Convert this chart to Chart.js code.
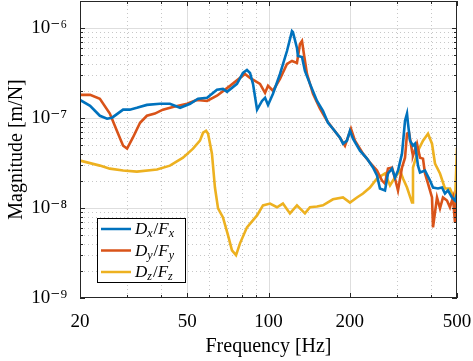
<!DOCTYPE html>
<html>
<head>
<meta charset="utf-8">
<script src="https://cdn.jsdelivr.net/npm/chart.js@4.4.0/dist/chart.umd.min.js"></script>
<style>
  html, body { margin: 0; padding: 0; background: #fff; }
</style>
</head>
<body>
<canvas id="grafico" width="473" height="361"></canvas>
<script>
// DATOS
const freqX = [20, 21.8, 23.7, 25.2, 26.3, 28.9, 30.6, 32.5, 35.4, 39.6,
  43.1, 47.0, 51.2, 54.8, 59.2, 64.4, 67.8, 70.2, 76.4, 80.4,
  83.2, 85.4, 87.6, 90.7, 94.6, 97.1, 99.6, 103.9, 110.3, 117.1,
  122.2, 123.2, 127.5, 128.6, 133.1, 136.5, 142.5, 151.3, 159.2, 166.2,
  173.4, 184.1, 188.9, 195.4, 200.5, 205.7, 218.4, 231.8, 244.0, 252.5,
  259.0, 270.4, 277.4, 287.1, 294.5, 302.1, 312.6, 320.8, 326.3, 329.1,
  334.8, 343.4, 349.3, 358.4, 364.6, 380.5, 397.1, 407.4, 425.1, 439.9,
  451.2, 462.9, 478.9, 491.4, 500];
const magX = [1.59e-7, 1.37e-7, 1.06e-7, 9.82e-8, 1.01e-7, 1.24e-7, 1.24e-7, 1.30e-7, 1.40e-7, 1.44e-7,
  1.44e-7, 1.30e-7, 1.44e-7, 1.64e-7, 1.68e-7, 2.06e-7, 2.11e-7, 1.96e-7, 2.40e-7, 3.17e-7,
  3.42e-7, 3.17e-7, 2.40e-7, 1.24e-7, 1.55e-7, 1.68e-7, 1.40e-7, 1.86e-7, 3.09e-7, 5.56e-7,
  9.26e-7, 9.03e-7, 6.00e-7, 4.90e-7, 4.77e-7, 3.34e-7, 2.40e-7, 1.55e-7, 1.20e-7, 8.87e-8,
  7.61e-8, 6.05e-8, 5.19e-8, 5.61e-8, 7.23e-8, 5.90e-8, 4.34e-8, 3.54e-8, 2.82e-8, 2.30e-8,
  1.65e-8, 1.57e-8, 2.42e-8, 2.74e-8, 2.18e-8, 2.61e-8, 4.02e-8, 9.33e-8, 1.12e-7, 8.65e-8,
  5.61e-8, 4.93e-8, 5.19e-8, 2.96e-8, 2.48e-8, 2.61e-8, 2.02e-8, 1.69e-8, 1.65e-8, 1.69e-8,
  1.45e-8, 1.57e-8, 1.31e-8, 1.21e-8, 1.45e-8];

const freqY = [20, 21.8, 23.7, 25.8, 27.4, 28.9, 29.9, 31.4, 33.4, 35.4,
  37.9, 40.6, 44.2, 49.9, 54.3, 59.2, 64.4, 72.0, 81.8, 85.4,
  93.0, 97.1, 99.6, 103.9, 110.3, 117.1, 122.2, 127.5, 130.8, 133.1,
  135.3, 138.9, 146.2, 155.2, 164.8, 173.4, 184.1, 192.1, 202.2, 209.2,
  224.1, 237.8, 252.5, 263.5, 270.4, 277.4, 287.1, 294.5, 302.1, 312.6,
  320.8, 326.3, 331.9, 340.5, 343.4, 355.3, 364.6, 374.0, 380.5, 390.4,
  403.9, 407.4, 421.5, 432.4, 443.6, 459.0, 470.8, 483.1, 491.4, 500];
const magY = [1.81e-7, 1.81e-7, 1.64e-7, 1.12e-7, 7.23e-8, 4.93e-8, 4.57e-8, 6.05e-8, 8.87e-8, 1.06e-7,
  1.12e-7, 1.24e-7, 1.33e-7, 1.44e-7, 1.59e-7, 1.55e-7, 1.77e-7, 2.28e-7, 3.09e-7, 2.79e-7,
  2.40e-7, 1.91e-7, 2.28e-7, 2.01e-7, 2.72e-7, 4.00e-7, 4.31e-7, 4.10e-7, 6.65e-7, 7.18e-7,
  5.15e-7, 3.09e-7, 1.86e-7, 1.27e-7, 9.33e-8, 7.61e-8, 6.05e-8, 4.93e-8, 7.61e-8, 5.61e-8,
  4.02e-8, 3.20e-8, 2.61e-8, 2.02e-8, 1.87e-8, 2.74e-8, 2.82e-8, 2.13e-8, 1.57e-8, 2.82e-8,
  3.63e-8, 6.70e-8, 6.87e-8, 4.34e-8, 3.82e-8, 5.19e-8, 3.63e-8, 3.54e-8, 2.42e-8, 1.87e-8,
  1.31e-8, 6.10e-9, 1.31e-8, 9.90e-9, 1.31e-8, 1.21e-8, 1.02e-8, 1.31e-8, 6.93e-9, 1.57e-8];

const freqZ = [20, 23.7, 25.8, 28.9, 32.5, 38.6, 43.1, 48.2, 52.5, 55.7,
  57.2, 58.7, 59.7, 61.7, 63.3, 65.0, 67.8, 70.8, 73.2, 75.8,
  78.4, 83.2, 90.7, 95.4, 101.3, 107.5, 113.1, 120.1, 127.5, 136.5,
  142.5, 151.3, 159.2, 173.4, 188.9, 200.5, 212.8, 224.1, 237.8, 252.5,
  270.4, 282.2, 289.5, 307.3, 315.3, 326.3, 340.5, 343.4, 358.4, 374.0,
  390.4, 403.9, 414.4, 432.4, 451.2, 470.8, 483.1, 491.4, 500];
const magZ = [3.37e-8, 2.96e-8, 2.74e-8, 2.61e-8, 2.54e-8, 2.68e-8, 2.96e-8, 3.63e-8, 4.57e-8, 5.61e-8,
  6.87e-8, 7.23e-8, 6.70e-8, 4.02e-8, 1.69e-8, 9.90e-9, 7.87e-9, 4.97e-9, 3.39e-9, 2.99e-9,
  4.05e-9, 6.10e-9, 8.28e-9, 1.07e-8, 1.12e-8, 1.02e-8, 1.12e-8, 8.71e-9, 1.07e-8, 8.71e-9,
  1.02e-8, 1.04e-8, 1.07e-8, 1.25e-8, 1.31e-8, 1.15e-8, 1.31e-8, 1.45e-8, 1.69e-8, 2.13e-8,
  2.42e-8, 1.78e-8, 2.02e-8, 2.61e-8, 2.13e-8, 1.69e-8, 1.15e-8, 2.82e-8, 4.34e-8, 5.61e-8,
  6.70e-8, 5.19e-8, 3.12e-8, 2.42e-8, 1.65e-8, 1.65e-8, 1.38e-8, 1.12e-8, 4.69e-8];

const xTicks = [20, 50, 100, 200, 500];
const xMinor = [30, 40, 60, 70, 80, 90, 300, 400];
const yTicks = [1e-9, 1e-8, 1e-7, 1e-6];
const leyenda = [["D", "x", "F", "x"], ["D", "y", "F", "y"], ["D", "z", "F", "z"]];
const colores = ["#0072BD", "#D95319", "#EDB120"];

const fuente = '"Liberation Serif", "DejaVu Serif", serif';

function puntos(f, m) {
  return f.map((v, i) => ({ x: v, y: m[i] }));
}

function exponente(v) {
  const sup = { "-": "\u207B", "0": "\u2070", "1": "\u00B9", "2": "\u00B2", "3": "\u00B3", "4": "\u2074",
    "5": "\u2075", "6": "\u2076", "7": "\u2077", "8": "\u2078", "9": "\u2079" };
  const e = String(Math.round(Math.log10(v)));
  return "10" + e.split("").map(c => sup[c]).join("");
}

// rejilla, marcas y caja al estilo matlab
const rejilla = {
  id: "rejilla",
  beforeDatasetsDraw(chart) {
    const ctx = chart.ctx, a = chart.chartArea;
    const sx = chart.scales.x, sy = chart.scales.y;
    ctx.save();
    ctx.lineWidth = 1;
    // menores
    ctx.strokeStyle = "rgba(0,0,0,0.22)";
    ctx.setLineDash([1, 3]);
    xMinor.forEach(v => {
      const p = Math.round(sx.getPixelForValue(v)) + 0.5;
      ctx.beginPath(); ctx.moveTo(p, a.top); ctx.lineTo(p, a.bottom); ctx.stroke();
    });
    for (let d = -9; d <= -6; d++) {
      for (let k = 2; k <= 9; k++) {
        const v = k * Math.pow(10, d);
        if (v > 2e-6) continue;
        const p = Math.round(sy.getPixelForValue(v)) + 0.5;
        ctx.beginPath(); ctx.moveTo(a.left, p); ctx.lineTo(a.right, p); ctx.stroke();
      }
    }
    // mayores
    ctx.setLineDash([]);
    ctx.strokeStyle = "rgba(0,0,0,0.13)";
    xTicks.slice(1, -1).forEach(v => {
      const p = Math.round(sx.getPixelForValue(v)) + 0.5;
      ctx.beginPath(); ctx.moveTo(p, a.top); ctx.lineTo(p, a.bottom); ctx.stroke();
    });
    yTicks.slice(1).forEach(v => {
      const p = Math.round(sy.getPixelForValue(v)) + 0.5;
      ctx.beginPath(); ctx.moveTo(a.left, p); ctx.lineTo(a.right, p); ctx.stroke();
    });
    ctx.restore();
  },
  afterDraw(chart) {
    const ctx = chart.ctx, a = chart.chartArea;
    const sx = chart.scales.x, sy = chart.scales.y;
    ctx.save();
    ctx.strokeStyle = "#262626";
    ctx.lineWidth = 1;
    ctx.strokeRect(a.left + 0.5, a.top + 0.5, a.right - a.left - 1, a.bottom - a.top - 1);
    const marca = (p, largo, horizontal) => {
      ctx.beginPath();
      if (horizontal) {
        ctx.moveTo(p, a.bottom); ctx.lineTo(p, a.bottom - largo);
        ctx.moveTo(p, a.top); ctx.lineTo(p, a.top + largo);
      } else {
        ctx.moveTo(a.left, p); ctx.lineTo(a.left + largo, p);
        ctx.moveTo(a.right, p); ctx.lineTo(a.right - largo, p);
      }
      ctx.stroke();
    };
    xTicks.forEach(v => marca(Math.round(sx.getPixelForValue(v)) + 0.5, 5, true));
    xMinor.forEach(v => marca(Math.round(sx.getPixelForValue(v)) + 0.5, 3, true));
    yTicks.forEach(v => marca(Math.round(sy.getPixelForValue(v)) + 0.5, 5, false));
    for (let d = -9; d <= -6; d++) {
      for (let k = 2; k <= 9; k++) {
        const v = k * Math.pow(10, d);
        if (v > 2e-6) continue;
        marca(Math.round(sy.getPixelForValue(v)) + 0.5, 3, false);
      }
    }

    // leyenda
    const lx = 97, ly = 218, lw = 88, lh = 64;
    ctx.fillStyle = "#fff";
    ctx.fillRect(lx, ly, lw, lh);
    ctx.strokeStyle = "#000";
    ctx.lineWidth = 1;
    ctx.strokeRect(lx + 0.5, ly + 0.5, lw, lh);
    leyenda.forEach((et, i) => {
      const y = ly + 11 + i * 21.5;
      ctx.strokeStyle = colores[i];
      ctx.lineWidth = 2.5;
      ctx.beginPath(); ctx.moveTo(lx + 4, y); ctx.lineTo(lx + 34, y); ctx.stroke();
      let x = lx + 38;
      ctx.fillStyle = "#000";
      ctx.textBaseline = "alphabetic";
      ctx.font = "italic 17px " + fuente;
      ctx.fillText(et[0], x, y + 5); x += ctx.measureText(et[0]).width;
      ctx.font = "italic 12px " + fuente;
      ctx.fillText(et[1], x, y + 8); x += ctx.measureText(et[1]).width + 1;
      ctx.font = "17px " + fuente;
      ctx.fillText("/", x, y + 5); x += ctx.measureText("/").width;
      ctx.font = "italic 17px " + fuente;
      ctx.fillText(et[2], x, y + 5); x += ctx.measureText(et[2]).width;
      ctx.font = "italic 12px " + fuente;
      ctx.fillText(et[3], x, y + 8);
    });
    ctx.restore();
  }
};

const ctx = document.getElementById("grafico").getContext("2d");
new Chart(ctx, {
  type: "line",
  data: {
    datasets: [
      { label: "Dx/Fx", data: puntos(freqX, magX), borderColor: colores[0] },
      { label: "Dy/Fy", data: puntos(freqY, magY), borderColor: colores[1] },
      { label: "Dz/Fz", data: puntos(freqZ, magZ), borderColor: colores[2] }
    ]
  },
  options: {
    responsive: false,
    animation: false,
    devicePixelRatio: 1,
    layout: { padding: { top: 1, right: 16, left: 0, bottom: 0 } },
    elements: {
      line: { borderWidth: 2.6, tension: 0, fill: false },
      point: { radius: 0 }
    },
    plugins: { legend: { display: false }, tooltip: { enabled: false } },
    scales: {
      x: {
        type: "logarithmic",
        min: 20,
        max: 500,
        grid: { display: false },
        border: { display: false },
        afterBuildTicks: s => { s.ticks = xTicks.map(v => ({ value: v })); },
        afterFit: s => { s.height = 63; s.paddingLeft = 0; s.paddingRight = 0; },
        ticks: {
          color: "#000",
          padding: 5,
          maxRotation: 0,
          font: { family: fuente, size: 19 },
          callback: v => String(v)
        },
        title: {
          display: true,
          text: "Frequency [Hz]",
          color: "#000",
          font: { family: fuente, size: 20 },
          padding: { top: 0, bottom: 2 }
        }
      },
      y: {
        type: "logarithmic",
        min: 1e-9,
        max: 2e-6,
        grid: { display: false },
        border: { display: false },
        afterBuildTicks: s => { s.ticks = yTicks.map(v => ({ value: v })); },
        afterFit: s => { s.width = 80; s.paddingTop = 0; s.paddingBottom = 0; },
        ticks: {
          color: "#000",
          padding: 5,
          font: { family: fuente, size: 19 },
          callback: v => exponente(v)
        },
        title: {
          display: true,
          text: "Magnitude [m/N]",
          color: "#000",
          font: { family: fuente, size: 20 },
          padding: { top: 5, bottom: 0 }
        }
      }
    }
  },
  plugins: [rejilla]
});
</script>
</body>
</html>
